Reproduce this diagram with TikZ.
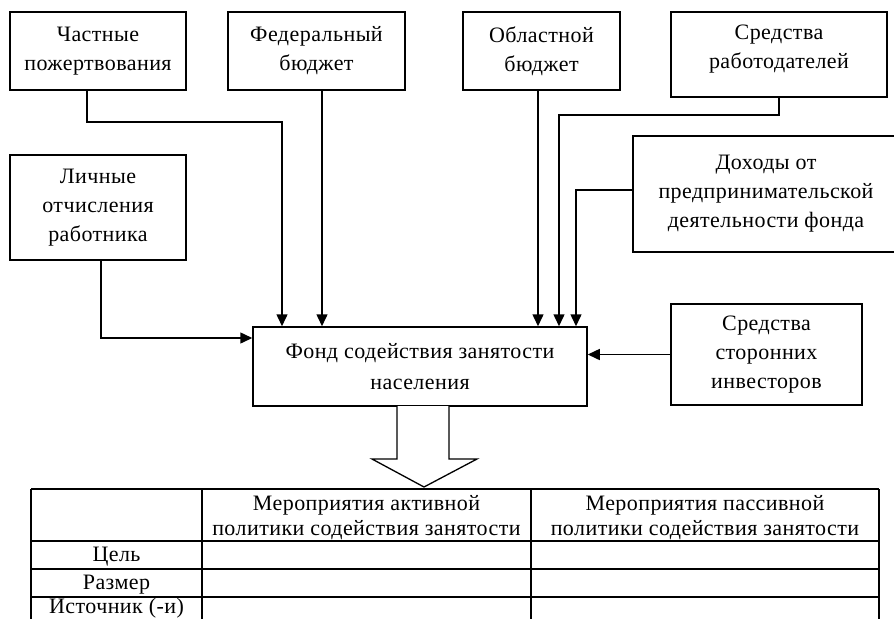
\documentclass[tikz,border=0pt]{standalone}
\usepackage{fontspec}
\setmainfont{Liberation Serif}[LetterSpace=2]
\usetikzlibrary{arrows.meta}
\begin{document}
\begin{tikzpicture}[x=1pt,y=-1pt,
  box/.style={draw, line width=1.5pt, inner sep=0pt, align=center, font=\fontsize{22}{29}\selectfont},
  arr/.style={line width=1.5pt, -{Triangle[length=12pt,width=11pt]}},
  cell/.style={align=center, inner sep=0pt, font=\fontsize{22}{25}\selectfont},
  grid/.style={line width=1.5pt}]
\useasboundingbox (0,0) rectangle (894,619);
% source boxes
\node[box, minimum width=176pt, minimum height=78pt] (chast) at (98,51) {Частные\\пожертвования};
\node[box, minimum width=177pt, minimum height=78pt] (fed) at (316.5,51) {Федеральный\\бюджет};
\node[box, minimum width=157pt, minimum height=78pt] (obl) at (541.5,51) {Областной\\бюджет};
\node[box, minimum width=216pt, minimum height=85pt] (rab) at (779,54.5) {Средства\\работодателей\\[-14pt]\mbox{}};
\node[box, minimum width=176pt, minimum height=105pt] (lich) at (98,207.5) {Личные\\отчисления\\работника};
\node[box, minimum width=266pt, minimum height=116pt] (doh) at (766,194) {Доходы от\\предпринимательской\\деятельности фонда};
\node[box, minimum width=191pt, minimum height=101pt] (inv) at (766.5,354.5) {Средства\\сторонних\\инвесторов};
% fund
\node[box, minimum width=334pt, minimum height=79pt, font=\fontsize{22}{31}\selectfont] (fund) at (420,366.5) {Фонд содействия занятости\\населения};
% arrival points
\coordinate (in1) at ([xshift=-138pt]fund.north);
\coordinate (in2) at ([xshift=-98pt]fund.north);
\coordinate (in3) at ([xshift=118pt]fund.north);
\coordinate (in4) at ([xshift=139pt]fund.north);
\coordinate (in5) at ([xshift=156pt]fund.north);
% connectors
\draw[arr] ([xshift=-11pt]chast.south) -- ++(0,31) -| (in1);
\draw[arr] (fed.south -| in2) -- (in2);
\draw[arr] (obl.south -| in3) -- (in3);
\draw[arr] (rab.south) -- ++(0,17) -| (in4);
\draw[arr] ([yshift=4pt]doh.west) -| (in5);
\draw[arr] ([xshift=3pt]lich.south) |- ([yshift=28.5pt]fund.west);
\draw[arr] (inv.west) -- (inv.west -| fund.east);
% hollow arrow
\draw[line width=1.3pt, line join=miter, fill=white] (397,406) -- (397,459) -- (372,459) -- (424,487) -- (477,459) -- (449,459) -- (449,406);
% table
\draw[grid] (31,489) -- (879,489);
\draw[grid] (31,541) -- (879,541);
\draw[grid] (31,569) -- (879,569);
\draw[grid] (31,597) -- (879,597);
\draw[grid] (31,489) -- (31,619);
\draw[grid] (202,489) -- (202,619);
\draw[grid] (531,489) -- (531,619);
\draw[grid] (879,489) -- (879,619);
\node[cell] (h1) at (366.5,518) {Мероприятия активной\\политики содействия занятости};
\node[cell] (h2) at (705,518) {Мероприятия пассивной\\политики содействия занятости};
\node[cell] (r1) at (116.5,557) {Цель};
\node[cell] (r2) at (116.5,585) {Размер};
\node[cell] (r3) at (116.5,608) {Источник (-и)};
\end{tikzpicture}
\end{document}
